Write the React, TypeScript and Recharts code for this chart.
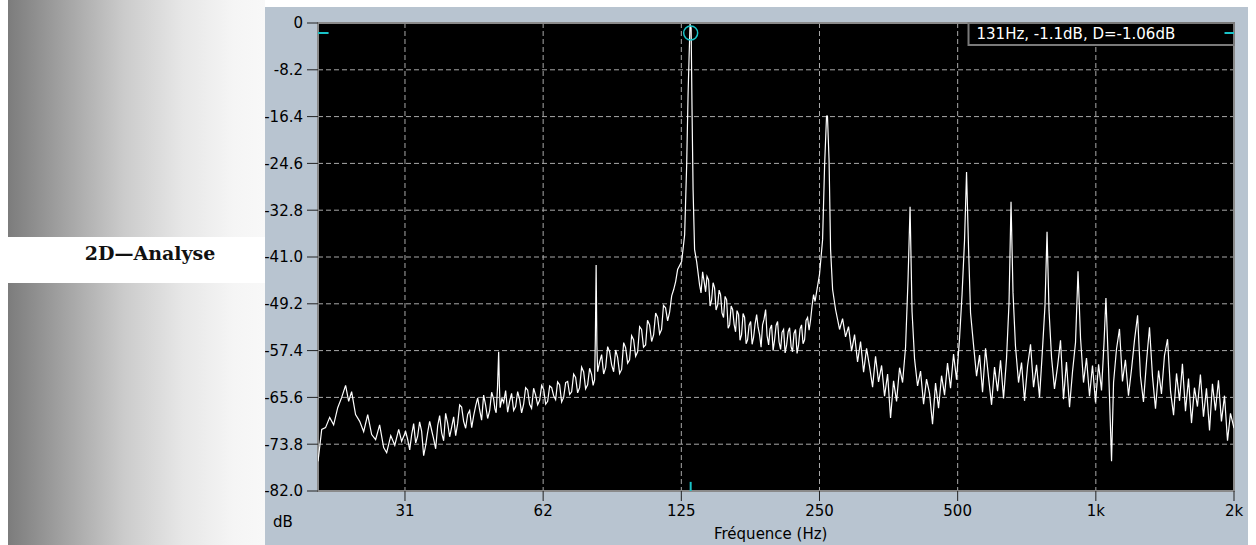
import React from 'react';
import {
  LineChart,
  Line,
  XAxis,
  YAxis,
  CartesianGrid,
  ReferenceArea,
  ReferenceDot,
  ReferenceLine
} from 'recharts';

// spectrum: frequency (Hz) and level (dB)
const freqHz = [
  20.2, 20.58, 20.98, 21.42, 21.85, 22.3, 22.75, 23.2, 23.56, 23.91, 24.39, 24.9, 25.4, 25.92, 26.44, 26.97,
  27.52, 28.08, 28.51, 29.1, 29.69, 30.28, 30.73,
  31.36, 31.68, 32.0, 32.32, 32.64, 32.97, 33.3, 33.63, 33.97, 34.32, 34.67, 35.02, 35.37, 35.73, 36.09, 36.45,
  36.82, 37.19, 37.56, 37.94, 38.32, 38.71, 39.1, 39.5, 39.89, 40.3, 40.7, 41.11, 41.52, 41.94, 42.37, 42.8,
  43.23, 43.67, 44.11, 44.55, 45.0, 45.45, 45.9, 46.37, 46.84, 47.31, 47.79, 48.27, 48.76, 49.06, 49.37, 49.7,
  50.0, 50.18, 50.37, 50.82, 51.27, 51.78, 52.3, 52.82, 53.35, 53.9, 54.44, 55.0, 55.55, 56.1, 56.67, 57.24,
  57.82, 58.4, 58.98, 59.58, 60.19, 60.8, 61.41, 62.03,
  62.66, 63.3, 63.93, 64.58, 65.23, 65.88, 66.54, 67.2, 67.88, 68.57, 69.27, 69.97, 70.67, 71.39, 72.11, 72.83,
  73.56, 74.3, 75.05, 75.8, 76.57, 77.34, 78.12, 78.91, 79.71, 80.31, 80.91, 81.22, 81.53, 81.84, 82.14, 82.97,
  83.81, 84.66, 85.51, 86.37, 87.23, 88.12, 89.01, 89.91, 90.81, 91.73, 92.66, 93.6, 94.53, 95.48, 96.43, 97.41,
  98.39, 99.4, 100.4, 101.4, 102.4, 103.4, 104.5, 105.5, 106.6, 107.7, 108.8, 109.9, 111.0, 112.1, 113.2, 114.3,
  115.5, 116.7, 117.9, 119.1, 120.3, 121.5, 122.7,
  125.2, 127.1, 128.4, 129.3, 130.0, 130.6, 131.3, 131.9, 132.6, 133.6, 135.0,
  137.0, 138.0, 139.1, 140.1, 141.2, 142.2, 143.3, 144.4, 145.5, 146.6, 147.7, 148.8, 150.0, 151.1, 152.2, 153.3,
  154.5, 155.7, 156.9, 158.1, 159.3, 160.5, 161.7, 162.9, 164.1, 165.3, 166.6, 167.8, 169.1, 170.4, 171.7, 173.0,
  174.3, 175.6, 177.0, 178.3, 179.6, 181.0, 182.4, 183.7, 185.1, 186.5, 187.9, 189.3, 190.8, 192.2, 193.7, 195.1,
  196.6, 198.1, 199.6, 201.1, 202.6, 204.1, 205.7, 207.2, 208.8, 210.4, 212.0, 213.6, 215.2, 216.8, 218.4, 220.0,
  221.7, 223.4, 225.1, 226.8, 228.5, 230.2, 232.0, 233.7, 235.5, 237.3, 239.1, 240.9, 242.7, 244.5, 246.4,
  250.0, 253.9, 256.5, 259.0, 260.2, 262.3, 264.3, 267.0, 271.0,
  276.5, 280.7, 284.9, 289.2, 293.7, 298.1, 302.6, 307.2, 311.9, 316.6, 321.4, 326.3, 331.2, 336.2, 341.4,
  346.5, 351.8, 357.1, 362.5, 368.0, 373.6, 379.3, 385.0, 389.8, 393.8, 397.7, 402.8, 408.9, 415.1, 421.4,
  427.7, 434.2, 440.8, 447.5, 454.3, 461.2, 468.2, 475.2, 482.5, 489.8, 497.2,
  504.8, 511.2, 517.6, 522.8, 528.1, 533.4, 541.4, 549.7, 558.1, 566.5, 575.1, 583.8, 592.7, 601.6, 610.8,
  620.0, 629.4, 638.9, 647.0, 653.5, 660.0, 668.2, 678.6, 688.9, 699.3, 710.0, 720.7, 731.6, 742.7, 754.0,
  765.3, 774.9, 782.9, 790.7, 800.8, 812.7, 825.2, 837.7, 850.3, 863.0, 876.4, 889.6, 903.1, 914.5, 926.1,
  940.1, 954.3, 968.9, 983.4, 998.5,
  1014, 1029, 1042, 1052, 1066, 1082, 1093, 1109, 1126, 1143, 1160, 1178, 1196, 1214, 1233, 1251, 1270,
  1290, 1309, 1329, 1349, 1370, 1390, 1411, 1433, 1455, 1477, 1499, 1522, 1544, 1568, 1592, 1616, 1640,
  1665, 1690, 1716, 1742, 1769, 1795, 1822, 1850, 1878, 1907, 1936, 1965, 2000
];

const levelDb = [
  -76.8, -71.2, -70.9, -69.1, -70.4, -67.4, -65.6, -63.5, -66.3, -64.6, -68.6, -69.8, -71.6, -68.6, -72.1, -73.0,
  -70.4, -74.4, -75.3, -72.3, -74.0, -71.2, -73.3,
  -71.6, -73.0, -74.8, -72.1, -70.2, -73.6, -72.4, -69.9, -71.5, -75.8, -74.0, -71.7, -69.8, -71.4, -72.9, -74.6,
  -70.6, -68.8, -71.8, -73.2, -68.4, -70.1, -72.5, -70.8, -69.0, -72.3, -70.2, -66.9, -67.3, -69.8, -71.0, -68.6,
  -67.9, -70.9, -68.8, -67.1, -65.7, -67.8, -69.6, -65.2, -67.0, -69.3, -67.9, -64.7, -65.9, -67.6, -68.3, -64.0,
  -57.6, -63.5, -67.4, -65.8, -66.5, -64.4, -68.2, -66.3, -64.9, -67.9, -67.2, -64.6, -66.0, -68.3, -66.8, -63.9,
  -64.3, -66.8, -67.5, -64.0, -65.2, -66.9, -66.1, -63.5,
  -64.2, -66.8, -66.3, -63.6, -63.9, -65.3, -66.0, -62.9, -63.4, -66.4, -65.6, -63.0, -62.8, -65.1, -64.6, -61.5,
  -62.1, -64.8, -63.9, -60.3, -61.1, -64.1, -63.4, -60.5, -61.6, -63.5, -62.5, -55.0, -42.4, -56.5, -61.1, -59.4,
  -58.1, -61.5, -60.4, -56.7, -57.6, -59.9, -61.1, -57.3, -58.6, -61.4, -60.7, -56.0, -56.9, -59.6, -59.0, -54.8,
  -55.5, -58.4, -57.6, -53.2, -53.7, -56.8, -56.4, -52.1, -52.9, -55.8, -54.6, -50.8, -51.6, -54.5, -53.7, -49.5,
  -49.9, -52.2, -50.6, -47.8, -46.7, -45.3, -43.2,
  -41.8, -37.1, -24.9, -12.6, -5.6, -0.2, -0.9, -15.2, -29.2, -39.7, -41.8,
  -45.9, -47.3, -43.6, -45.2, -47.1, -44.4, -45.0, -49.6, -48.5, -45.5, -46.4, -50.3, -49.4, -46.8, -47.6, -50.8,
  -51.6, -47.9, -48.5, -53.5, -52.9, -49.6, -50.2, -52.8, -54.1, -50.4, -51.1, -55.6, -54.6, -50.9, -51.6, -56.2,
  -55.5, -53.0, -52.3, -56.3, -55.1, -52.7, -51.1, -53.3, -54.6, -56.8, -52.9, -51.9, -50.2, -54.8, -56.4, -53.6,
  -52.9, -57.4, -55.5, -53.0, -52.3, -55.9, -57.2, -54.2, -53.7, -57.8, -56.4, -54.1, -53.4, -56.7, -57.6, -54.4,
  -53.7, -57.9, -56.4, -53.6, -52.9, -56.2, -55.5, -52.1, -51.6, -53.8, -52.0, -49.5, -47.6, -48.8, -47.1,
  -44.1, -38.0, -24.9, -16.3, -16.3, -24.0, -39.7, -46.7, -50.2,
  -53.7, -51.8, -55.0, -53.2, -57.5, -54.6, -59.4, -55.8, -61.2, -57.0, -60.2, -63.8, -58.4, -62.9, -60.0,
  -65.4, -61.5, -69.2, -62.7, -66.3, -60.4, -63.0, -56.8, -45.0, -32.2, -50.5, -58.9, -63.6, -61.0, -66.8,
  -62.4, -64.9, -70.3, -63.1, -67.5, -61.8, -65.2, -59.6, -64.0, -58.0, -62.5,
  -55.2, -47.5, -38.0, -26.1, -39.5, -50.8, -56.4, -61.9, -58.2, -64.7, -57.0, -62.1, -66.9, -60.3, -64.5,
  -59.1, -65.8, -58.8, -49.0, -31.3, -47.2, -56.6, -63.0, -59.5, -66.2, -60.1, -56.3, -63.8, -59.9, -65.6,
  -57.1, -49.5, -36.6, -50.4, -58.6, -64.1, -60.2, -55.6, -65.9, -59.4, -67.3, -61.1, -56.0, -43.5, -55.2,
  -63.0, -58.7, -65.4, -60.0, -66.5,
  -59.8, -64.4, -56.0, -48.2, -60.5, -76.8, -63.0, -57.2, -53.6, -62.8, -59.0, -65.3, -60.7, -55.6, -51.2,
  -61.9, -66.4, -59.2, -53.3, -62.0, -67.6, -60.9, -65.0, -58.3, -55.4, -64.6, -68.7, -61.4, -66.2, -59.7,
  -68.0, -62.3, -70.1, -63.9, -67.2, -61.6, -69.0, -64.0, -71.4, -63.2, -67.9, -62.6, -69.8, -65.3, -73.2,
  -68.4, -71.0
];

const xTicks = [31.25, 62.5, 125, 250, 500, 1000, 2000];
const xTickLabels = ['31', '62', '125', '250', '500', '1k', '2k'];
const yTicks = [0, -8.2, -16.4, -24.6, -32.8, -41, -49.2, -57.4, -65.6, -73.8, -82];
const yTickLabels = ['0', '-8.2', '-16.4', '-24.6', '-32.8', '-41.0', '-49.2', '-57.4', '-65.6', '-73.8', '-82.0'];

// cursor
const cursorHz = 131;
const cursorMarkDb = -1.75;
const readout = '131Hz, -1.1dB, D=-1.06dB';

const data = freqHz.map((f, i) => ({ f, db: levelDb[i] }));

const FONT = 'DejaVu Sans';
const CYAN = '#19c3c8';

const sideGradient = 'linear-gradient(to right, #7c7c7c 0%, #a3a3a3 22%, #cbcbcb 45%, #e7e7e7 68%, #f5f5f5 88%, #f8f8f8 100%)';

const App: React.FC = () => {
  return (
    <div style={{ position: 'absolute', left: 0, top: 0, width: 1256, height: 545, overflow: 'hidden', background: '#fff' }}>
      {/* left decoration */}
      <div style={{ position: 'absolute', left: 8, top: 0, width: 257, height: 237, background: sideGradient }} />
      <div
        style={{
          position: 'absolute',
          left: 0,
          top: 242,
          width: 300,
          textAlign: 'center',
          fontFamily: 'DejaVu Serif',
          fontWeight: 'bold',
          fontSize: 19,
          color: '#111'
        }}
      >
        2D—Analyse
      </div>
      <div style={{ position: 'absolute', left: 8, top: 283, width: 257, height: 262, background: sideGradient }} />

      {/* analyser panel */}
      <div style={{ position: 'absolute', left: 265, top: 7, width: 983, height: 538, background: '#b8c4d0', overflow: 'hidden' }}>
        <LineChart width={983} height={538} data={data} margin={{ top: 16, right: 14, bottom: 0, left: 0 }}>
          <CartesianGrid fill="#000" stroke="#a9a9a9" strokeDasharray="5 3" />
          <XAxis
            dataKey="f"
            type="number"
            scale="log"
            domain={[20.2, 2000]}
            allowDataOverflow
            ticks={xTicks}
            tickFormatter={(v: number) => xTickLabels[xTicks.indexOf(v)]}
            height={54}
            tickSize={10}
            tickMargin={4}
            axisLine={false}
            tickLine={{ stroke: '#222' }}
            tick={{ fill: '#000', fontSize: 15, fontFamily: FONT }}
            interval={0}
          />
          <YAxis
            type="number"
            domain={[-82, 0]}
            ticks={yTicks}
            tickFormatter={(v: number) => yTickLabels[yTicks.indexOf(v)]}
            width={53}
            tickSize={11}
            tickMargin={4}
            axisLine={false}
            tickLine={{ stroke: '#222' }}
            tick={{ fill: '#000', fontSize: 15, fontFamily: FONT }}
            interval={0}
          />
          {/* plot frame */}
          <ReferenceArea x1={20.2} x2={2000} y1={-82} y2={0} fill="none" stroke="#8a8a8a" strokeWidth={2} ifOverflow="visible" />

          <Line type="linear" dataKey="db" stroke="#fff" strokeWidth={1.2} dot={false} isAnimationActive={false} />

          {/* cursor readout */}
          <ReferenceArea
            x1={528}
            x2={2000}
            y1={-3.85}
            y2={0}
            fill="#000"
            fillOpacity={1}
            stroke="#7a7a7a"
            strokeWidth={2}
            ifOverflow="visible"
            label={{ value: readout, position: 'insideLeft', offset: 8, fill: '#fff', fontSize: 15, fontFamily: FONT }}
          />
          <ReferenceLine segment={[{ x: 20.2, y: cursorMarkDb }, { x: 21.3, y: cursorMarkDb }]} stroke={CYAN} strokeWidth={2} ifOverflow="visible" />
          <ReferenceLine segment={[{ x: 1907, y: cursorMarkDb }, { x: 2000, y: cursorMarkDb }]} stroke={CYAN} strokeWidth={2} ifOverflow="visible" />
          <ReferenceLine segment={[{ x: cursorHz, y: -82 }, { x: cursorHz, y: -80.4 }]} stroke={CYAN} strokeWidth={2} ifOverflow="visible" />
          <ReferenceDot x={cursorHz} y={cursorMarkDb} r={7} fill="none" stroke={CYAN} strokeWidth={1.5} ifOverflow="visible" />
        </LineChart>

        <div style={{ position: 'absolute', left: 8, top: 506, fontFamily: FONT, fontSize: 15, color: '#000' }}>dB</div>
        <div style={{ position: 'absolute', left: 449, top: 518, fontFamily: FONT, fontSize: 15, color: '#000' }}>Fréquence (Hz)</div>
      </div>
    </div>
  );
};

export default App;
